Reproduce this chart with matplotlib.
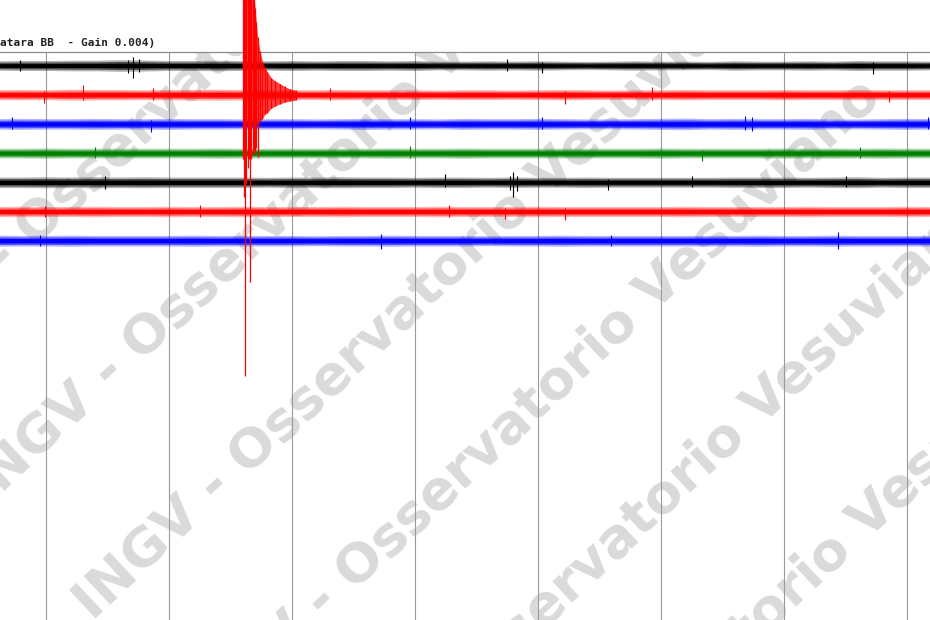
import numpy as np
import matplotlib
matplotlib.use("Agg")
import matplotlib.pyplot as plt
from matplotlib.patches import Rectangle

W, H, DPI = 930, 620, 100

header = "atara BB  - Gain 0.004)"
watermark = "INGV - Osservatorio Vesuviano"

trace_colors = ["#000000", "#ff0000", "#0000ff", "#008000", "#000000", "#ff0000", "#0000ff"]

# x axis in minutes, one grid line per minute
grid_minutes = [0, 1, 2, 3, 4, 5, 6, 7]

# noise envelope (half width, in trace spacings), read every 0.2 min from -0.4 to 7.2
env_times = np.round(np.arange(-0.4, 7.21, 0.2), 2)
env_tr0 = [0.16, 0.17, 0.17, 0.18, 0.18, 0.20, 0.19, 0.17, 0.17, 0.18, 0.17, 0.16, 0.17,
           0.16, 0.17, 0.17, 0.16, 0.17, 0.15, 0.15, 0.16, 0.15, 0.16, 0.15, 0.14, 0.15,
           0.16, 0.15, 0.15, 0.14, 0.16, 0.15, 0.15, 0.16, 0.15, 0.17, 0.16, 0.16, 0.15]
env_tr1 = [0.17, 0.18, 0.17, 0.19, 0.18, 0.18, 0.17, 0.18, 0.18, 0.19, 0.18, 0.18, 0.17,
           0.17, 0.18, 0.17, 0.17, 0.17, 0.16, 0.17, 0.17, 0.16, 0.17, 0.18, 0.17, 0.16,
           0.17, 0.17, 0.18, 0.17, 0.17, 0.17, 0.18, 0.17, 0.17, 0.18, 0.17, 0.17, 0.17]
env_tr2 = [0.18, 0.19, 0.18, 0.18, 0.19, 0.18, 0.18, 0.19, 0.18, 0.18, 0.17, 0.18, 0.18,
           0.17, 0.18, 0.19, 0.18, 0.18, 0.17, 0.19, 0.18, 0.18, 0.19, 0.18, 0.17, 0.17,
           0.18, 0.19, 0.20, 0.18, 0.19, 0.18, 0.18, 0.19, 0.17, 0.17, 0.18, 0.19, 0.18]
env_tr3 = [0.17, 0.17, 0.18, 0.17, 0.17, 0.17, 0.17, 0.17, 0.17, 0.18, 0.17, 0.17, 0.17,
           0.17, 0.17, 0.17, 0.18, 0.17, 0.17, 0.18, 0.17, 0.17, 0.17, 0.17, 0.17, 0.17,
           0.17, 0.18, 0.17, 0.17, 0.17, 0.17, 0.18, 0.17, 0.18, 0.17, 0.18, 0.17, 0.17]
env_tr4 = [0.18, 0.18, 0.19, 0.18, 0.19, 0.18, 0.19, 0.18, 0.18, 0.18, 0.18, 0.17, 0.18,
           0.18, 0.19, 0.18, 0.18, 0.17, 0.18, 0.18, 0.17, 0.18, 0.17, 0.17, 0.18, 0.17,
           0.17, 0.17, 0.17, 0.17, 0.18, 0.18, 0.18, 0.17, 0.18, 0.19, 0.17, 0.18, 0.18]
env_tr5 = [0.17, 0.18, 0.17, 0.17, 0.18, 0.17, 0.17, 0.18, 0.17, 0.17, 0.18, 0.17, 0.17,
           0.17, 0.18, 0.17, 0.17, 0.17, 0.18, 0.17, 0.17, 0.17, 0.18, 0.17, 0.17, 0.17,
           0.17, 0.17, 0.18, 0.17, 0.17, 0.17, 0.17, 0.18, 0.17, 0.17, 0.17, 0.18, 0.17]
env_tr6 = [0.19, 0.18, 0.18, 0.19, 0.18, 0.18, 0.18, 0.18, 0.19, 0.18, 0.18, 0.18, 0.18,
           0.17, 0.18, 0.18, 0.19, 0.18, 0.18, 0.18, 0.17, 0.18, 0.18, 0.19, 0.18, 0.18,
           0.18, 0.18, 0.18, 0.18, 0.18, 0.19, 0.18, 0.18, 0.19, 0.18, 0.18, 0.18, 0.18]
envelopes = [env_tr0, env_tr1, env_tr2, env_tr3, env_tr4, env_tr5, env_tr6]

# isolated spikes: (minute, up, down), in trace spacings
spikes_tr0 = [(-0.21, 0.22, 0.18), (0.67, 0.22, 0.24), (0.71, 0.31, 0.41), (0.76, 0.25, 0.22),
              (3.75, 0.24, 0.18), (4.03, 0.14, 0.24), (6.72, 0.14, 0.26)]
spikes_tr1 = [(-0.02, 0.14, 0.26), (0.30, 0.34, 0.18), (0.87, 0.25, 0.18), (2.31, 0.25, 0.16),
              (4.22, 0.14, 0.29), (4.93, 0.27, 0.16), (6.85, 0.14, 0.24)]
spikes_tr2 = [(-0.28, 0.25, 0.16), (0.85, 0.16, 0.25), (2.96, 0.25, 0.16), (4.03, 0.27, 0.16),
              (5.68, 0.30, 0.18), (5.74, 0.27, 0.21), (7.17, 0.25, 0.16)]
spikes_tr3 = [(0.40, 0.22, 0.16), (2.96, 0.27, 0.16), (5.33, 0.14, 0.25), (6.62, 0.22, 0.16)]
spikes_tr4 = [(0.48, 0.25, 0.21), (3.24, 0.30, 0.16), (3.77, 0.25, 0.25), (3.80, 0.36, 0.50),
              (3.83, 0.24, 0.28), (4.57, 0.14, 0.25), (5.25, 0.22, 0.16), (6.50, 0.25, 0.16)]
spikes_tr5 = [(-0.01, 0.22, 0.16), (1.25, 0.25, 0.16), (3.28, 0.25, 0.16), (3.73, 0.14, 0.25),
              (4.22, 0.14, 0.29)]
spikes_tr6 = [(-0.05, 0.22, 0.16), (2.72, 0.25, 0.27), (4.59, 0.22, 0.16), (6.44, 0.30, 0.27)]
spikes = [spikes_tr0, spikes_tr1, spikes_tr2, spikes_tr3, spikes_tr4, spikes_tr5, spikes_tr6]

# local earthquake on the second (red) trace
event_t = [1.60, 1.61, 1.62, 1.63, 1.64, 1.65, 1.66, 1.67, 1.68, 1.69, 1.70, 1.71, 1.72,
           1.74, 1.76, 1.78, 1.80, 1.83, 1.86, 1.90, 1.94, 1.98, 2.03]
event_up = [3.5, 3.5, 3.5, 3.5, 3.5, 3.5, 3.5, 3.5, 3.5, 3.5, 3.0, 2.5, 2.0,
            1.5, 1.15, 0.95, 0.8, 0.6, 0.5, 0.4, 0.3, 0.22, 0.17]
event_down = [2.2, 3.5, 9.6, 3.0, 2.5, 2.2, 6.4, 2.2, 2.0, 1.9, 2.0, 1.8, 2.1,
              0.9, 0.8, 0.65, 0.6, 0.45, 0.38, 0.3, 0.24, 0.2, 0.17]

fig = plt.figure(figsize=(W / DPI, H / DPI), dpi=DPI, facecolor="white")
ax = fig.add_axes([0, 0, 1, 1 - 52 / H])
ax.set_xlim(-46 / 123, (W - 46) / 123)
ax.set_ylim(-(H - 66) / 29.2, 14 / 29.2)
ax.set_xticks([])
ax.set_yticks([])
for side in ["left", "right", "bottom"]:
    ax.spines[side].set_visible(False)
ax.spines["top"].set_color("#8c8c8c")
ax.spines["top"].set_linewidth(0.9)

for m in grid_minutes:
    ax.axvline(m, color="#9a9a9a", lw=0.8, zorder=1)

# diagonal watermark, under the traces
theta = np.deg2rad(43)
for k in range(7):
    u, v = -356, 205 + 156.5 * k
    x = u * np.cos(theta) + v * np.sin(theta)
    y = -u * np.sin(theta) + v * np.cos(theta)
    ax.text(x / W, 1 - y / H, watermark, transform=fig.transFigure, rotation=43,
            rotation_mode="anchor", ha="left", va="baseline", fontsize=39,
            fontweight="bold", family="DejaVu Sans", color="#dadada", zorder=0.5,
            clip_on=False)

# the watermark stops at the top of the plot box
ax.add_patch(Rectangle((0, 1 - 52 / H), 1, 52 / H, transform=fig.transFigure,
                       facecolor="white", edgecolor="none", zorder=0.8, clip_on=False))

for k, (env, col) in enumerate(zip(envelopes, trace_colors)):
    base = -k
    env = np.array(env)
    ax.fill_between(env_times, base - env, base + env, color=col, alpha=0.3, lw=0, zorder=3)
    ax.fill_between(env_times, base - 0.7 * env, base + 0.7 * env, color=col, alpha=0.55,
                    lw=0, zorder=3)
    ax.fill_between(env_times, base - 0.4 * env, base + 0.4 * env, color=col, lw=0, zorder=3)
    st, su, sd = (np.array(c) for c in zip(*spikes[k]))
    ax.vlines(st, base - sd, base + su, color=col, lw=0.8, zorder=3)

ev_t = np.array(event_t)
ev_up = np.array(event_up)
ev_dn = np.array(event_down)
ax.fill_between(ev_t, -1 - np.minimum(ev_dn, 1.0), -1 + ev_up, color="#ff0000", lw=0,
                alpha=0.75, zorder=4, clip_on=False)
ax.vlines(ev_t, -1 - ev_dn, -1 + ev_up, color="#ff0000", lw=0.9, zorder=4, clip_on=False)

fig.text(0, 1 - 46 / H, header, family="DejaVu Sans Mono", fontweight="bold",
         fontsize=8, color="#222222", ha="left", va="baseline")

fig.savefig("out.png", dpi=DPI, facecolor="white")
